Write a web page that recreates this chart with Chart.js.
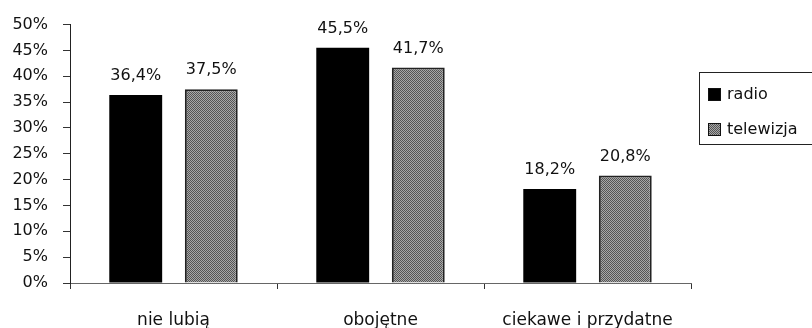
<!DOCTYPE html>
<html>
<head>
<meta charset="utf-8">
<script src="https://cdn.jsdelivr.net/npm/chart.js@4/dist/chart.umd.min.js"></script>
<style>
  html, body { margin: 0; padding: 0; background: #fff; }
  #wrap { width: 812px; height: 328px; position: relative; }
</style>
</head>
<body>
<div id="wrap"><canvas id="chart"></canvas></div>
<script>
const categories = ['nie lubią', 'obojętne', 'ciekawe i przydatne'];
const radioValues = [36.4, 45.5, 18.2];
const tvValues = [37.5, 41.7, 20.8];
const seriesNames = ['radio', 'telewizja'];

const FONT = '"DejaVu Sans", "Noto Sans", sans-serif';

// dithered grey fill for the second series
function makePattern() {
    const c = document.createElement('canvas');
    c.width = 4; c.height = 4;
    const g = c.getContext('2d');
    g.fillStyle = '#a8a8a8';
    g.fillRect(0, 0, 4, 4);
    g.fillStyle = '#555';
    for (let y = 0; y < 4; y++) {
        for (let x = 0; x < 4; x++) {
            if ((x + y) % 2 === 0) g.fillRect(x, y, 1, 1);
        }
    }
    return g.createPattern(c, 'repeat');
}
const tvFill = makePattern();

function pct(v) {
    return v.toFixed(1).replace('.', ',') + '%';
}

const valueLabels = {
    id: 'valueLabels',
    afterDatasetsDraw(chart) {
        const ctx = chart.ctx;
        ctx.save();
        ctx.font = '16px ' + FONT;
        ctx.fillStyle = '#111';
        ctx.textAlign = 'center';
        ctx.textBaseline = 'middle';
        chart.data.datasets.forEach((ds, i) => {
            chart.getDatasetMeta(i).data.forEach((bar, j) => {
                ctx.fillText(pct(ds.data[j]), bar.x, bar.y - 19);
            });
        });
        ctx.restore();
    }
};

const boxLegend = {
    id: 'boxLegend',
    afterDraw(chart) {
        const ctx = chart.ctx;
        const left = 699, top = 72, h = 72;
        ctx.save();
        ctx.strokeStyle = '#222';
        ctx.lineWidth = 1;
        ctx.strokeRect(left + 0.5, top + 0.5, 200, h);
        ctx.font = '16px ' + FONT;
        ctx.textBaseline = 'middle';
        ctx.textAlign = 'left';
        const rows = [95, 130];
        chart.data.datasets.forEach((ds, i) => {
            const y = rows[i];
            ctx.fillStyle = ds.backgroundColor;
            ctx.fillRect(708, y - 7, 13, 13);
            ctx.strokeStyle = '#111';
            ctx.strokeRect(708.5, y - 6.5, 12, 12);
            ctx.fillStyle = '#111';
            ctx.fillText(ds.label, 727, y);
        });
        ctx.restore();
    }
};

new Chart(document.getElementById('chart').getContext('2d'), {
    type: 'bar',
    data: {
        labels: categories,
        datasets: [{
            label: seriesNames[0],
            data: radioValues,
            backgroundColor: '#000',
            borderColor: '#000',
            borderWidth: 0,
            categoryPercentage: 0.73,
            barPercentage: 0.7
        }, {
            label: seriesNames[1],
            data: tvValues,
            backgroundColor: tvFill,
            borderColor: '#222',
            borderWidth: 2,
            categoryPercentage: 0.73,
            barPercentage: 0.7
        }]
    },
    options: {
        responsive: true,
        maintainAspectRatio: false,
        animation: false,
        layout: { padding: { top: 17, right: 121, left: 0, bottom: 0 } },
        plugins: {
            legend: { display: false },
            tooltip: { enabled: false }
        },
        scales: {
            x: {
                afterFit(scale) { scale.height = 45; },
                grid: {
                    offset: true,
                    drawOnChartArea: false,
                    tickLength: 6,
                    color: '#333'
                },
                border: { color: '#666', width: 1 },
                ticks: {
                    padding: 21,
                    color: '#111',
                    font: { family: FONT, size: 17 }
                }
            },
            y: {
                min: 0,
                max: 50,
                afterFit(scale) { scale.width = 70; },
                grid: {
                    drawOnChartArea: false,
                    tickLength: 7,
                    color: '#333'
                },
                border: { color: '#222', width: 1 },
                ticks: {
                    stepSize: 5,
                    padding: 15,
                    color: '#111',
                    font: { family: FONT, size: 16 },
                    callback: v => v + '%'
                }
            }
        }
    },
    plugins: [valueLabels, boxLegend]
});
</script>
</body>
</html>
